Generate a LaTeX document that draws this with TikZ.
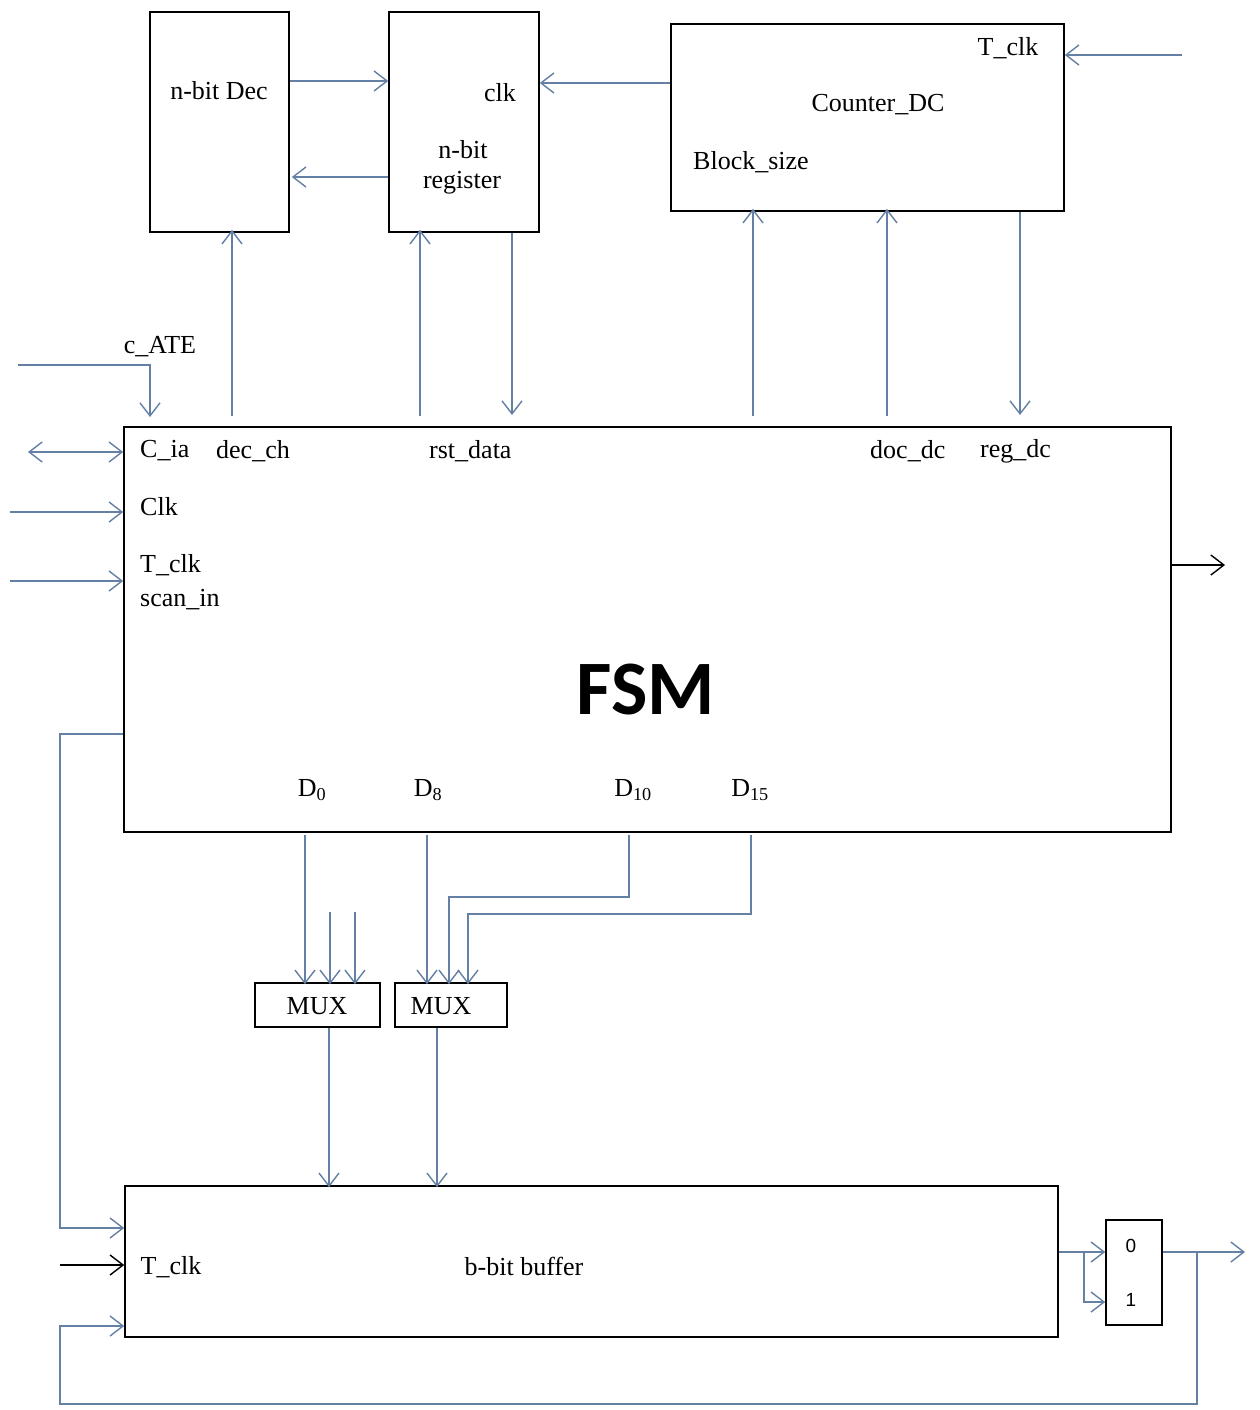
\documentclass[tikz,border=0pt]{standalone}
\usepackage{fontspec}
\setmainfont{Liberation Serif}
\newfontfamily\fsmfont{Carlito}
\newfontfamily\sansf{Liberation Sans}
\usetikzlibrary{arrows.meta,calc}
\definecolor{wire}{RGB}{100,128,165}
\begin{document}
\begin{tikzpicture}[x=1pt,y=-1pt,
  box/.style={draw=black,line width=1.6pt,inner sep=0pt},
  lbl/.style={inner sep=0pt,font=\fontsize{26}{29}\selectfont},
  arr/.style={draw=wire,line width=1.4pt,-{Straight Barb[length=13pt,width=20pt]}},
  darr/.style={draw=wire,line width=1.4pt,{Straight Barb[length=13pt,width=20pt]}-{Straight Barb[length=13pt,width=20pt]}},
  barr/.style={draw=black,line width=1.4pt,-{Straight Barb[length=13pt,width=20pt]}},
  wireline/.style={draw=wire,line width=1.4pt}]
\useasboundingbox (0,0) rectangle (1259,1410);
\fill[white] (0,0) rectangle (1259,1410);
% boxes
\node[box,minimum width=139pt,minimum height=220pt] (dec) at (219.5,122) {};
\node[box,minimum width=150pt,minimum height=220pt] (reg) at (464,122) {};
\node[box,minimum width=393pt,minimum height=187pt] (cnt) at (867.5,117.5) {};
\node[box,minimum width=1047pt,minimum height=405pt] (fsm) at (647.5,629.5) {};
\node[box,minimum width=125pt,minimum height=44pt] (mux1) at (317.5,1005) {};
\node[box,minimum width=112pt,minimum height=44pt] (mux2) at (451,1005) {};
\node[box,minimum width=933pt,minimum height=151pt] (buf) at (591.5,1261.5) {};
\node[box,minimum width=56pt,minimum height=105pt] (smux) at (1134,1272.5) {};
% texts
\node[lbl] (tdec) at (219,91) {n-bit Dec};
\node[lbl] (tclk) at (500,93) {clk};
\node[lbl] (tnbit) at (463,150) {n-bit};
\node[lbl] (treg) at (462,183) {register};
\node[lbl] (ttclk1) at (1008,48) {T\_clk};
\node[lbl] (tcnt) at (878,105) {Counter\_DC};
\node[lbl] (tblk) at (751,162) {Block\_size};
\node[lbl] (tcate) at (160,347) {c\_ATE};
\node[lbl,anchor=west] (tcia) at (140,451) {C\_ia};
\node[lbl,anchor=west] (tdech) at (216,451) {dec\_ch};
\node[lbl,anchor=west] (trst) at (429,451) {rst\_data};
\node[lbl,anchor=west] (tdoc) at (870,451) {doc\_dc};
\node[lbl,anchor=west] (tregdc) at (980,451) {reg\_dc};
\node[lbl,anchor=west] (tClk) at (140,507) {Clk};
\node[lbl,anchor=west] (ttclk2) at (140,565) {T\_clk};
\node[lbl,anchor=west] (tscan) at (140,600) {scan\_in};
\node[inner sep=0pt,font=\fsmfont\bfseries\fontsize{77}{80}\selectfont] (tfsm) at (646,690) {FSM};
\node[lbl] (td0) at (312,790) {D\textsubscript{0}};
\node[lbl] (td8) at (428,790) {D\textsubscript{8}};
\node[lbl] (td10) at (633,790) {D\textsubscript{10}};
\node[lbl] (td15) at (750,790) {D\textsubscript{15}};
\node[lbl] (tmux1) at (317,1006) {MUX};
\node[lbl] (tmux2) at (441,1006) {MUX};
\node[lbl] (ttclk3) at (171,1267) {T\_clk};
\node[lbl] (tbuf) at (524,1266) {b-bit buffer};
\node[inner sep=0pt,font=\sansf\fontsize{19}{21}\selectfont] (t0) at (1131,1246) {0};
\node[inner sep=0pt,font=\sansf\fontsize{19}{21}\selectfont] (t1) at (1131,1300) {1};
% helper coordinates
\coordinate (yA) at (0,81);
\coordinate (yB) at (0,177);
\coordinate (yC) at (0,83);
\coordinate (yI) at (0,734);
\coordinate (yJ) at (0,1228);
\coordinate (yL) at (0,1326);
\coordinate (yM) at (0,1252);
\coordinate (yN) at (0,1302);
% top connectors
\draw[arr] (dec.east |- yA) -- (reg.west |- yA);
\draw[arr] (reg.west |- yB) -- ([xshift=2pt]dec.east |- yB);
\draw[arr] (cnt.west |- yC) -- (reg.east |- yC);
\coordinate (tin) at (1182,55);
\draw[arr] (tin) -- (cnt.east |- tin);
\coordinate (p1) at (232,416);
\draw[arr] (p1) -- ([yshift=3pt]dec.south -| p1);
\coordinate (p2) at (420,416);
\draw[arr] (p2) -- ([yshift=3pt]reg.south -| p2);
\coordinate (p3) at (512,415);
\draw[arr] (reg.south -| p3) -- (p3);
\coordinate (p4) at (753,416);
\draw[arr] (p4) -- ([yshift=3pt]cnt.south -| p4);
\coordinate (p5) at (887,416);
\draw[arr] (p5) -- ([yshift=3pt]cnt.south -| p5);
\coordinate (p6) at (1020,415);
\draw[arr] (cnt.south -| p6) -- (p6);
% left inputs
\coordinate (cate0) at (18,365);
\coordinate (cate1) at (150,417);
\draw[arr] (cate0) -| (cate1);
\coordinate (cia) at (28,452);
\draw[darr] (cia) -- (fsm.west |- cia);
\coordinate (clkin) at (10,512);
\draw[arr] (clkin) -- (fsm.west |- clkin);
\coordinate (tclkin) at (10,581);
\draw[arr] (tclkin) -- (fsm.west |- tclkin);
\coordinate (fout) at (1225,565);
\draw[barr] (fsm.east |- fout) -- (fout);
% feedback left
\coordinate (lx) at (60,0);
\draw[arr] (fsm.west |- yI) -- (lx |- yI) -- (lx |- yJ) -- (buf.west |- yJ);
\coordinate (bt) at (60,1265);
\draw[barr] (bt) -- (buf.west |- bt);
% D lines
\coordinate (d0) at (305,835);
\draw[arr] (d0) -- ([yshift=-2pt]mux1.north -| d0);
\coordinate (e1) at (330,912);
\draw[arr] (e1) -- ([yshift=-2pt]mux1.north -| e1);
\coordinate (e2) at (355,912);
\draw[arr] (e2) -- ([yshift=-2pt]mux1.north -| e2);
\coordinate (d8) at (427,835);
\draw[arr] (d8) -- ([yshift=-2pt]mux2.north -| d8);
\coordinate (d10) at (629,835);
\coordinate (d10b) at (449,897);
\draw[arr] (d10) |- (d10b) -- ([yshift=-2pt]mux2.north -| d10b);
\coordinate (d15) at (751,835);
\coordinate (d15b) at (468,914);
\draw[arr] (d15) |- (d15b) -- ([yshift=-2pt]mux2.north -| d15b);
% mux to buffer
\coordinate (m1) at (329,0);
\draw[arr] (mux1.south -| m1) -- ([yshift=-2pt]buf.north -| m1);
\coordinate (m2) at (437,0);
\draw[arr] (mux2.south -| m2) -- ([yshift=-2pt]buf.north -| m2);
% buffer to small mux
\coordinate (br) at (1084,1252);
\draw[arr] (buf.east |- yM) -- (smux.west |- yM);
\draw[arr] (br) |- (smux.west |- yN);
\coordinate (sout) at (1245,1252);
\draw[arr] (smux.east |- sout) -- (sout);
% bottom loop
\coordinate (lpx) at (1197,1253);
\coordinate (lpb) at (1197,1404);
\draw[arr] (lpx) -- (lpb) -- (lx |- lpb) -- (lx |- yL) -- (buf.west |- yL);
\end{tikzpicture}
\end{document}
